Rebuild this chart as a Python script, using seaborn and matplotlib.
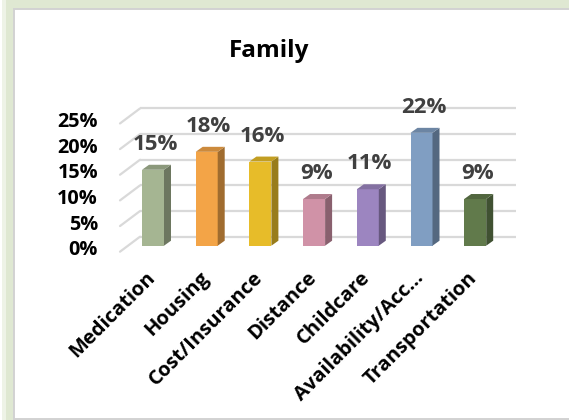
import matplotlib
matplotlib.use("Agg")
import matplotlib.pyplot as plt
import matplotlib.colors as mcolors
import seaborn as sns
from matplotlib.patches import Polygon, Rectangle
from matplotlib.ticker import PercentFormatter
from matplotlib.transforms import ScaledTranslation

# data
categories = ["Medication", "Housing", "Cost/Insurance", "Distance",
              "Childcare", "Availability/Acc...", "Transportation"]
values = [0.148, 0.183, 0.164, 0.091, 0.110, 0.220, 0.091]
value_labels = ["15%", "18%", "16%", "9%", "11%", "22%", "9%"]
colors = ["#A5B592", "#F3A447", "#E7BC29", "#D092A7", "#9C85C0", "#809EC2", "#617A4B"]
y_ticks = [0, 0.05, 0.10, 0.15, 0.20, 0.25]
title = "Family"

W, H, DPI = 569, 420, 100
sns.set_theme(style="white")
plt.rcParams["font.family"] = ["Open Sans", "DejaVu Sans"]

fig = plt.figure(figsize=(W / DPI, H / DPI), dpi=DPI)
fig.patch.set_facecolor("white")


def frame_rect(x0, y0, x1, y1, **kw):
    # rectangle given in pixels from the top-left corner
    return Rectangle((x0 / W, 1 - y1 / H), (x1 - x0) / W, (y1 - y0) / H,
                     transform=fig.transFigure, zorder=-5, **kw)


# green glow + grey border of the chart area
fig.patches.append(frame_rect(2, 0, W, H, facecolor="#EEF3E7", edgecolor="none"))
fig.patches.append(frame_rect(6, 0, W, H, facecolor="#DFE8D2", edgecolor="none"))
fig.patches.append(frame_rect(14, 9, W + 5, 418.5, facecolor="white",
                              edgecolor="#D2D2D2", linewidth=1.4))

# geometry of the 3d look (pixels)
cat_px = 53.7          # distance between bars
unit_px = 513.0        # pixels for 100%
first_px = 153.0       # centre of first bar
floor_front = 6        # front floor below bar bottom
wall_back = 9          # back wall above bar bottom
front_left, back_left, back_right = 120, 140, 516
bar_dx, bar_dy = 7, 5

top_px, bot_px = 100, 245.7 + floor_front
ax = fig.add_axes([front_left / W, 1 - bot_px / H,
                   (back_right - front_left) / W, (bot_px - top_px) / H])
ax.patch.set_alpha(0)

dxp = 1 / cat_px
dyp = 1 / unit_px
x_front_left = (front_left - first_px) * dxp
x_back_left = (back_left - first_px) * dxp
x_back_right = (back_right - first_px) * dxp

# back wall gridlines and left wall diagonals
for v in y_ticks:
    yb = v + wall_back * dyp
    ax.plot([x_back_left, x_back_right], [yb, yb], color="#D9D9D9", lw=1.6,
            zorder=1, clip_on=False, solid_capstyle="butt")
    ax.plot([x_front_left, x_back_left], [v - floor_front * dyp, yb],
            color="#D9D9D9", lw=1.6, zorder=1, clip_on=False)

bar_w = 22 / cat_px
sns.barplot(x=categories, y=values, hue=categories, palette=colors,
            width=bar_w, saturation=1, legend=False, ax=ax,
            edgecolor="none", linewidth=0, zorder=3)


def shade(c, f):
    r, g, b = mcolors.to_rgb(c)
    return (r * f, g * f, b * f)


bdx, bdy = bar_dx * dxp, bar_dy * dyp
for i, (v, c) in enumerate(zip(values, colors)):
    xl, xr = i - bar_w / 2, i + bar_w / 2
    side = Polygon([(xr, 0), (xr + bdx, bdy), (xr + bdx, v + bdy), (xr, v)],
                   closed=True, facecolor=shade(c, 0.66), edgecolor="none", zorder=3)
    top = Polygon([(xl, v), (xr, v), (xr + bdx, v + bdy), (xl + bdx, v + bdy)],
                  closed=True, facecolor=shade(c, 0.84), edgecolor="none", zorder=3)
    ax.add_patch(side)
    ax.add_patch(top)
    ax.annotate(value_labels[i], (i, v), xytext=(2 * 0.72, 25.5 * 0.72),
                textcoords="offset points", ha="center", va="center",
                fontsize=16, fontweight="bold", color="#404040", zorder=4)

ax.set_xlim(x_front_left, x_back_right)
ax.set_ylim(-floor_front * dyp, (245.7 - top_px) * dyp)
sns.despine(ax=ax, left=True, bottom=True)
ax.set_xlabel("")
ax.set_ylabel("")

ax.set_yticks(y_ticks)
ax.yaxis.set_major_formatter(PercentFormatter(1.0, decimals=0))
ax.tick_params(axis="y", length=0, pad=22 * 0.72, labelsize=14.3)
for lab in ax.get_yticklabels():
    lab.set_fontweight("bold")
    lab.set_color("black")
    lab.set_transform(lab.get_transform() + ScaledTranslation(0, -4.5 / DPI, fig.dpi_scale_trans))
    lab.set_va("center")

ax.tick_params(axis="x", length=0, pad=(268 - bot_px) * 0.72, labelsize=14.5)
for lab in ax.get_xticklabels():
    lab.set_rotation(45)
    lab.set_ha("right")
    lab.set_va("top")
    lab.set_rotation_mode("anchor")
    lab.set_fontweight("bold")
    lab.set_color("black")
    lab.set_transform(lab.get_transform() + ScaledTranslation(-8 / DPI, 0, fig.dpi_scale_trans))

fig.text(269 / W, 1 - 57 / H, title, ha="center", va="baseline",
         fontsize=17.5, fontweight="bold", color="black")

fig.savefig("out.png", dpi=DPI)
